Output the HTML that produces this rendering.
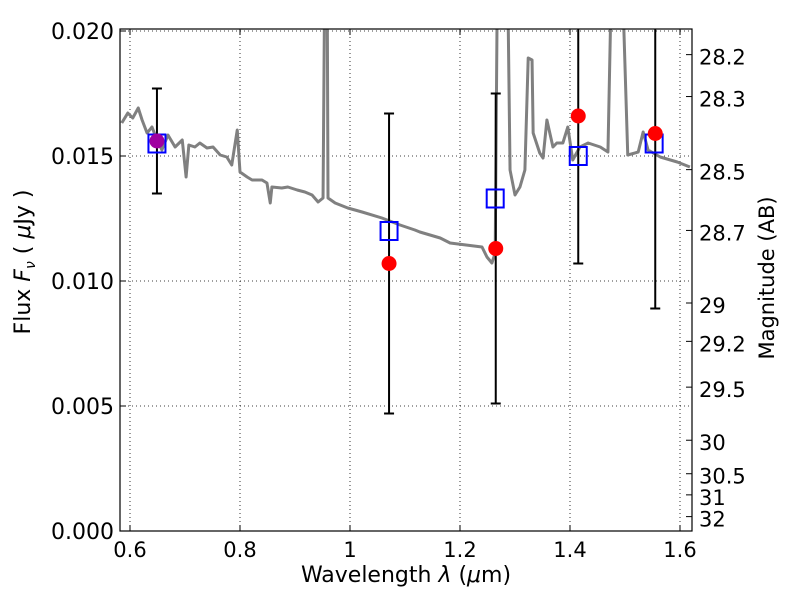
<!DOCTYPE html>
<html><head><meta charset="utf-8"><style>
body{margin:0;background:#fff}
svg text{font-family:"DejaVu Sans","Liberation Sans",sans-serif;fill:#000}
</style></head><body>
<svg id="chart" width="800" height="600" xmlns="http://www.w3.org/2000/svg">
<defs><clipPath id="clip"><rect x="120" y="29" width="572" height="502"/></clipPath></defs>
<rect width="800" height="600" fill="#fff"/>
<g id="grid"></g>
<g id="spec" clip-path="url(#clip)"></g>
<g id="errs" clip-path="url(#clip)"></g>
<g id="marks" clip-path="url(#clip)"></g>
<rect x="120" y="29" width="572" height="502" fill="none" stroke="#000" stroke-width="1.2"/>
<g id="axes"></g>
<text x="406" y="582" font-size="22" text-anchor="middle">Wavelength  <tspan font-style="italic">λ</tspan> (<tspan font-style="italic">μ</tspan>m)</text>
<text transform="translate(30,262) rotate(-90)" font-size="22" text-anchor="middle">Flux  <tspan font-style="italic">F</tspan><tspan font-style="italic" font-size="14" dy="5">ν</tspan><tspan dy="-5">  ( </tspan><tspan font-style="italic">μ</tspan>Jy )</text>
<text transform="translate(774,278) rotate(-90)" font-size="21" text-anchor="middle">Magnitude (AB)</text>
</svg>
<script>
const specLam=[0.585,0.596,0.605,0.615,0.622,0.631,0.640,0.649,0.658,0.669,0.682,0.695,0.702,0.707,0.718,0.727,0.740,0.751,0.764,0.776,0.785,0.795,0.800,0.813,0.822,0.840,0.849,0.855,0.858,0.876,0.887,0.904,0.918,0.931,0.942,0.951,0.955,0.958,0.960,0.973,0.996,1.022,1.058,1.091,1.118,1.127,1.164,1.182,1.240,1.249,1.258,1.264,1.269,1.285,1.291,1.300,1.309,1.318,1.324,1.331,1.333,1.345,1.351,1.358,1.369,1.376,1.387,1.396,1.405,1.418,1.433,1.455,1.469,1.478,1.491,1.505,1.524,1.533,1.542,1.564,1.595,1.618];
const specFlux=[16.32,16.72,16.52,16.92,16.44,15.92,16.16,15.64,15.24,15.84,15.36,15.64,14.16,15.44,15.36,15.52,15.32,15.36,15.04,14.96,14.64,16.04,14.36,14.16,14.04,14.04,13.92,13.12,13.76,13.72,13.76,13.64,13.56,13.44,13.16,13.32,25,25,13.32,13.12,12.92,12.76,12.52,12.24,12.04,11.96,11.72,11.52,11.36,10.96,10.72,11.12,25,25,14.44,13.44,13.76,14.44,18.92,18.84,15.92,15.12,14.92,16.44,15.36,15.52,15.52,16.16,14.84,15.36,15.52,15.36,15.16,25,25,15.04,15.16,15.96,15.24,14.96,14.76,14.56];
const ptLam=[0.649,1.071,1.265,1.415,1.555];
const ptFlux=[15.6,10.7,11.3,16.6,15.9];
const ptLo=[13.5,4.7,5.1,10.7,8.9];
const ptHi=[17.7,16.7,17.5,22,22];
const modelLam=[0.649,1.071,1.264,1.415,1.553];
const modelFlux=[15.5,12.0,13.3,15.0,15.5];
const xTicks=[0.6,0.8,1.0,1.2,1.4,1.6];
const xTickLabels=["0.6","0.8","1","1.2","1.4","1.6"];
const yTicks=[0,0.005,0.010,0.015,0.020];
const yTickLabels=["0.000","0.005","0.010","0.015","0.020"];
const magTicks=[28.2,28.3,28.5,28.7,29,29.2,29.5,30,30.5,31,32];
const magTickLabels=["28.2","28.3","28.5","28.7","29","29.2","29.5","30","30.5","31","32"];

const NS="http://www.w3.org/2000/svg";
const X=l=>130+(l-0.6)*550;
const Y=f=>531-f*25000;
const Ym=f=>Y(f/1000);
const magToFlux=m=>Math.pow(10,(23.9-m)/2.5);
function mk(tag,attrs,parent){const e=document.createElementNS(NS,tag);for(const k in attrs)e.setAttribute(k,attrs[k]);parent.appendChild(e);return e;}
const grid=document.getElementById('grid'),axes=document.getElementById('axes');
xTicks.forEach((t,i)=>{
  const x=X(t);
  const g=mk('line',{x1:x,x2:x,y1:29,y2:531,stroke:'#000','stroke-width':0.8,'stroke-dasharray':'1,3'},grid);
  
  
  mk('line',{x1:x,x2:x,y1:531,y2:525,stroke:'#000'},axes);
  mk('line',{x1:x,x2:x,y1:29,y2:35,stroke:'#000'},axes);
  const tx=mk('text',{x:x,y:557,'font-size':21,'text-anchor':'middle'},axes);
  tx.textContent=xTickLabels[i];
  
  
});
yTicks.forEach((t,i)=>{
  const y=Y(t);
  const g=mk('line',{x1:120,x2:692,y1:y,y2:y,stroke:'#000','stroke-width':0.8,'stroke-dasharray':'1,3'},grid);
  
  
  mk('line',{x1:120,x2:126,y1:y,y2:y,stroke:'#000'},axes);
  const tx=mk('text',{x:114,y:y+8,'font-size':22,'text-anchor':'end'},axes);
  tx.textContent=yTickLabels[i];
  
  
});
magTicks.forEach((m,i)=>{
  const y=Y(magToFlux(m));
  mk('line',{x1:692,x2:686,y1:y,y2:y,stroke:'#000'},axes);
  const tx=mk('text',{x:699,y:y+10,'font-size':21},axes);
  tx.textContent=magTickLabels[i];
  
  
});
const spec=document.getElementById('spec');
const sp=mk('polyline',{points:specLam.map((l,i)=>X(l)+','+Ym(specFlux[i])).join(' '),fill:'none',stroke:'#808080','stroke-width':3,'stroke-linejoin':'round'},spec);


const errs=document.getElementById('errs'),marks=document.getElementById('marks');
ptLam.forEach((l,i)=>{
  const x=X(l),y1=Ym(ptLo[i]),y2=Ym(ptHi[i]);
  const e=mk('line',{x1:x,x2:x,y1:y1,y2:y2,stroke:'#000','stroke-width':2},errs);
  
  
  mk('line',{x1:x-5,x2:x+5,y1:y1,y2:y1,stroke:'#000','stroke-width':2},errs);
  mk('line',{x1:x-5,x2:x+5,y1:y2,y2:y2,stroke:'#000','stroke-width':2},errs);
});
modelLam.forEach((l,i)=>{
  const s=mk('rect',{x:X(l)-8.5,y:Ym(modelFlux[i])-9,width:17,height:18,fill:'none',stroke:'#0000ff','stroke-width':2},marks);
  
  
});
ptLam.forEach((l,i)=>{
  const c=mk('circle',{cx:X(l),cy:Ym(ptFlux[i]),r:7.5,fill:i===0?'#a000a0':'#ff0000'},marks);
  
  
});
</script>
</body></html>
